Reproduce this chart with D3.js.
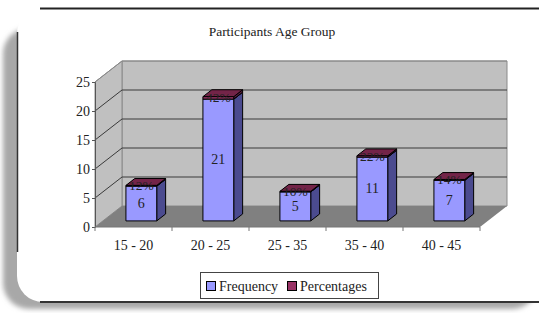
<!DOCTYPE html>
<html>
<head>
<meta charset="utf-8">
<script src="https://cdn.jsdelivr.net/npm/d3@7"></script>
<style>
  body { margin: 0; background: #fff; }
  svg { display: block; }
  svg text { font-family: "Liberation Serif", "Times New Roman", serif; }
</style>
</head>
<body>
<svg width="556" height="313"></svg>
<script>
// chart data
var categories = ["15 - 20", "20 - 25", "25 - 35", "35 - 40", "40 - 45"];
var frequency = [6, 21, 5, 11, 7];
var percentages = [0.12, 0.42, 0.10, 0.22, 0.14];
var yTicks = [0, 5, 10, 15, 20, 25];

var serif = "'Liberation Serif', 'Times New Roman', serif";
var svg = d3.select("svg");

// 3d box: front face of the plot, depth offset toward the back wall
var front = {left: 95, right: 480, top: 82, bottom: 227};
var depthX = 27, depthY = 21;
var barZ0 = 0.29, barZ1 = 0.62;

var x = d3.scaleBand()
    .domain(categories)
    .range([front.left, front.right]);

var y = d3.scaleLinear()
    .domain([0, 25])
    .range([front.bottom, front.top]);

// project a point at depth d (0 = front, 1 = back wall)
function P(px, py, d) { return [px + d * depthX, py - d * depthY]; }
function poly(pts) { return "M" + pts.map(function(p) { return p.join(","); }).join("L") + "Z"; }

// ---- card with shadow ----
var defs = svg.append("defs");
defs.append("filter").attr("id", "blur")
    .attr("x", "-10%").attr("y", "-10%").attr("width", "120%").attr("height", "120%")
    .append("feGaussianBlur").attr("stdDeviation", 2.5);

svg.append("rect")
    .attr("x", 3).attr("y", 28).attr("width", 535).attr("height", 281)
    .attr("rx", 26)
    .attr("fill", "#a8a8a8")
    .attr("filter", "url(#blur)");

svg.append("rect")
    .attr("x", 17).attr("y", 8).attr("width", 560).attr("height", 294)
    .attr("rx", 26)
    .attr("fill", "#fff");

svg.append("line").attr("x1", 40).attr("x2", 539).attr("y1", 8.5).attr("y2", 8.5)
    .attr("stroke", "#222").attr("stroke-width", 2);
svg.append("line").attr("x1", 17.5).attr("x2", 17.5).attr("y1", 32).attr("y2", 252)
    .attr("stroke", "#333").attr("stroke-width", 1.5);
svg.append("line").attr("x1", 40).attr("x2", 539).attr("y1", 302).attr("y2", 302)
    .attr("stroke", "#333").attr("stroke-width", 2);

// title
svg.append("text")
    .attr("x", 272)
    .attr("y", 36)
    .attr("text-anchor", "middle")
    .style("font-family", serif)
    .style("font-size", "13.5px")
    .style("fill", "#222")
    .text("Participants Age Group");

// ---- walls and floor ----
var wallColor = "#c0c0c0", floorColor = "#808080", gridColor = "#3a3a3a";

// back wall
svg.append("path")
    .attr("d", poly([P(front.left, y(25), 1), P(front.right, y(25), 1), P(front.right, y(0), 1), P(front.left, y(0), 1)]))
    .attr("fill", wallColor)
    .attr("stroke", "#8a8a8a").attr("stroke-width", 1);

// side wall
svg.append("path")
    .attr("d", poly([P(front.left, y(25), 0), P(front.left, y(25), 1), P(front.left, y(0), 1), P(front.left, y(0), 0)]))
    .attr("fill", wallColor)
    .attr("stroke", "#8a8a8a").attr("stroke-width", 1);

// floor
svg.append("path")
    .attr("d", poly([P(front.left, y(0), 0), P(front.left, y(0), 1), P(front.right, y(0), 1), P(front.right, y(0), 0)]))
    .attr("fill", floorColor);

// gridlines on back and side walls
var grid = svg.append("g").attr("class", "grid");
yTicks.filter(function(t) { return t > 0; }).forEach(function(t) {
    var a = P(front.left, y(t), 0), b = P(front.left, y(t), 1), c = P(front.right, y(t), 1);
    grid.append("path")
        .attr("d", "M" + a.join(",") + "L" + b.join(",") + "L" + c.join(","))
        .attr("fill", "none")
        .attr("stroke", t === 25 ? "#8a8a8a" : gridColor)
        .attr("stroke-width", 1);
});

// y axis
svg.append("g")
    .attr("transform", "translate(" + front.left + ",0)")
    .call(d3.axisLeft(y).tickValues(yTicks).tickSize(3).tickPadding(2))
    .call(function(g) {
        g.attr("font-family", serif);
        g.select(".domain").attr("stroke", "#555");
        g.selectAll(".tick line").attr("stroke", "#555");
        g.selectAll("text")
            .attr("fill", "#222")
            .style("font-size", "14px")
            .style("font-family", serif);
    });

// x axis
var xAxis = svg.append("g")
    .attr("transform", "translate(0," + front.bottom + ")");
xAxis.append("line")
    .attr("x1", front.left).attr("x2", front.right)
    .attr("stroke", "#777");
xAxis.selectAll(".xt")
    .data(categories.concat(["end"]))
    .enter().append("line")
    .attr("x1", function(d, i) { return front.left + i * x.bandwidth(); })
    .attr("x2", function(d, i) { return front.left + i * x.bandwidth(); })
    .attr("y1", 0).attr("y2", 4)
    .attr("stroke", "#777");
xAxis.selectAll(".xl")
    .data(categories)
    .enter().append("text")
    .attr("x", function(d) { return x(d) + x.bandwidth() / 2; })
    .attr("y", 23)
    .attr("text-anchor", "middle")
    .style("font-family", serif)
    .style("font-size", "14px")
    .style("fill", "#222")
    .text(function(d) { return d; });

// ---- 3d bars ----
var barW = x.bandwidth() * 0.4;
var freqFront = "#9999ff", freqSide = "#4b4b8f", freqTop = "#7777cc";
var pctFront = "#993366", pctSide = "#5a1d3c", pctTop = "#732448";

function box(g, x0, x1, v0, v1, cFront, cSide, cTop) {
    var y0 = y(v0), y1 = y(v1);
    // side
    g.append("path")
        .attr("d", poly([P(x1, y1, barZ0), P(x1, y1, barZ1), P(x1, y0, barZ1), P(x1, y0, barZ0)]))
        .attr("fill", cSide).attr("stroke", "#000").attr("stroke-width", 1).attr("stroke-linejoin", "round");
    // top
    g.append("path")
        .attr("d", poly([P(x0, y1, barZ0), P(x0, y1, barZ1), P(x1, y1, barZ1), P(x1, y1, barZ0)]))
        .attr("fill", cTop).attr("stroke", "#000").attr("stroke-width", 1).attr("stroke-linejoin", "round");
    // front
    g.append("path")
        .attr("d", poly([P(x0, y1, barZ0), P(x1, y1, barZ0), P(x1, y0, barZ0), P(x0, y0, barZ0)]))
        .attr("fill", cFront).attr("stroke", "#000").attr("stroke-width", 1).attr("stroke-linejoin", "round");
}

var bars = svg.append("g").attr("class", "bars");
categories.forEach(function(c, i) {
    var cx = x(c) + x.bandwidth() / 2;
    var x0 = cx - barW / 2, x1 = cx + barW / 2;
    var g = bars.append("g");
    box(g, x0, x1, 0, frequency[i], freqFront, freqSide, freqTop);
    box(g, x0, x1, frequency[i], frequency[i] + percentages[i], pctFront, pctSide, pctTop);

    var fc = P(cx, 0, barZ0)[0];
    var yBase = P(0, y(0), barZ0)[1];
    var yTop = P(0, y(frequency[i] + percentages[i]), barZ0)[1];
    // frequency value
    g.append("text")
        .attr("x", fc)
        .attr("y", (yBase + yTop) / 2 + 5)
        .attr("text-anchor", "middle")
        .style("font-family", serif)
        .style("font-size", "14px")
        .style("fill", "#222")
        .text(frequency[i]);
    // percentage label
    g.append("text")
        .attr("x", fc)
        .attr("y", yTop + 5)
        .attr("text-anchor", "middle")
        .style("font-family", serif)
        .style("font-size", "13.5px")
        .style("fill", "#222")
        .text(Math.round(percentages[i] * 100) + "%");
});

// ---- legend ----
var legend = svg.append("g").attr("transform", "translate(200,272)");
legend.append("rect")
    .attr("x", 0.5).attr("y", 0.5).attr("width", 178).attr("height", 26)
    .attr("fill", "#fff").attr("stroke", "#444");
var legendItems = [
    {name: "Frequency", color: freqFront, x: 6},
    {name: "Percentages", color: pctFront, x: 87}
];
legend.selectAll(".li")
    .data(legendItems)
    .enter().append("rect")
    .attr("x", function(d) { return d.x + 0.5; })
    .attr("y", 9.5)
    .attr("width", 9).attr("height", 9)
    .attr("fill", function(d) { return d.color; })
    .attr("stroke", "#000");
legend.selectAll(".lt")
    .data(legendItems)
    .enter().append("text")
    .attr("x", function(d) { return d.x + 13; })
    .attr("y", 18.5)
    .style("font-family", serif)
    .style("font-size", "14px")
    .style("fill", "#222")
    .text(function(d) { return d.name; });
</script>
</body>
</html>
